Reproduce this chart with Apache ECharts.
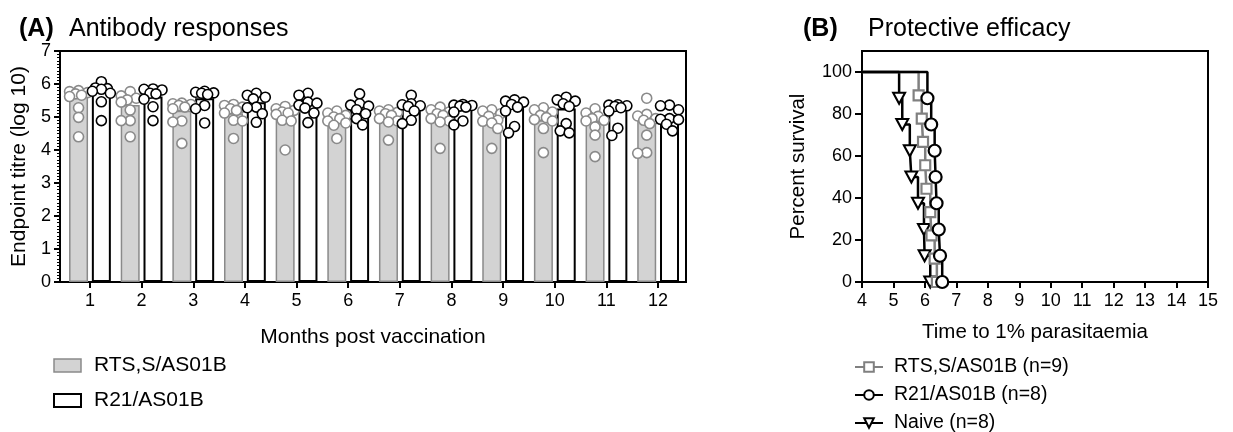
<!DOCTYPE html>
<html>
<head>
<meta charset="utf-8">
<script src="https://cdn.jsdelivr.net/npm/echarts@6/dist/echarts.min.js"></script>
<style>html,body{margin:0;padding:0;background:#fff;}#c{width:1233px;height:432px;}</style>
</head>
<body>
<div id="c"></div>
<script>
// ---------- Data ----------
const months = [1, 2, 3, 4, 5, 6, 7, 8, 9, 10, 11, 12];
const rtsBar = [5.62, 5.36, 5.19, 5.11, 5.06, 4.85, 4.99, 4.92, 4.80, 4.90, 4.85, 4.88];
const r21Bar = [5.82, 5.62, 5.57, 5.45, 5.54, 5.35, 5.32, 5.36, 5.36, 5.26, 5.28, 5.06];
const rtsPoints = [
  [5.80, 5.77, 5.74, 5.70, 5.66, 5.62, 5.28, 4.99, 4.40],
  [5.77, 5.64, 5.57, 5.52, 5.45, 5.21, 4.89, 4.89, 4.40],
  [5.42, 5.40, 5.38, 5.35, 5.30, 5.25, 4.88, 4.85, 4.20],
  [5.38, 5.35, 5.30, 5.25, 5.20, 5.12, 4.90, 4.88, 4.35],
  [5.32, 5.25, 5.20, 5.15, 5.12, 5.08, 4.90, 4.88, 4.00],
  [5.18, 5.12, 5.05, 5.00, 4.95, 4.88, 4.82, 4.75, 4.35],
  [5.22, 5.18, 5.14, 5.10, 5.05, 4.95, 4.88, 4.85, 4.30],
  [5.30, 5.22, 5.15, 5.10, 5.05, 4.95, 4.88, 4.85, 4.05],
  [5.22, 5.18, 5.10, 5.02, 4.90, 4.87, 4.82, 4.65, 4.05],
  [5.28, 5.22, 5.15, 5.05, 4.98, 4.92, 4.88, 4.65, 3.92],
  [5.25, 5.12, 5.02, 4.95, 4.90, 4.88, 4.70, 4.45, 3.80],
  [5.57, 5.08, 5.03, 4.95, 4.90, 4.80, 4.45, 3.92, 3.90]
];
const r21Points = [
  [6.07, 5.88, 5.86, 5.84, 5.78, 5.72, 5.46, 4.89],
  [5.85, 5.84, 5.82, 5.72, 5.70, 5.54, 5.31, 4.89],
  [5.78, 5.75, 5.73, 5.72, 5.68, 5.35, 5.25, 4.82],
  [5.72, 5.66, 5.60, 5.55, 5.30, 5.28, 5.10, 4.84],
  [5.72, 5.66, 5.45, 5.42, 5.36, 5.27, 5.12, 4.83],
  [5.70, 5.40, 5.36, 5.33, 5.22, 5.10, 4.95, 4.76],
  [5.66, 5.40, 5.37, 5.34, 5.32, 5.18, 4.90, 4.80],
  [5.38, 5.36, 5.35, 5.33, 5.30, 5.15, 4.88, 4.76],
  [5.52, 5.48, 5.45, 5.38, 5.30, 5.18, 4.71, 4.52],
  [5.60, 5.52, 5.48, 5.40, 5.32, 4.80, 4.58, 4.52],
  [5.37, 5.36, 5.34, 5.32, 5.28, 5.18, 4.66, 4.44],
  [5.36, 5.34, 5.22, 4.95, 4.93, 4.92, 4.78, 4.58]
];
const yTicksA = [0, 1, 2, 3, 4, 5, 6, 7];

// Survival (Kaplan-Meier) data
const startTime = 4;
const rtsTimes = [5.80, 5.90, 5.94, 6.01, 6.05, 6.17, 6.21, 6.31, 6.38];
const rtsSurv = [88.9, 77.8, 66.7, 55.6, 44.4, 33.3, 22.2, 11.1, 0];
const r21Times = [6.08, 6.20, 6.31, 6.34, 6.37, 6.44, 6.48, 6.55];
const r21Surv = [87.5, 75, 62.5, 50, 37.5, 25, 12.5, 0];
const naiveTimes = [5.18, 5.28, 5.52, 5.57, 5.78, 5.97, 5.99, 6.17];
const naiveSurv = [87.5, 75, 62.5, 50, 37.5, 25, 12.5, 0];
const xTicksB = [4, 5, 6, 7, 8, 9, 10, 11, 12, 13, 14, 15];
const yTicksB = [0, 20, 40, 60, 80, 100];
const legendNamesB = ['RTS,S/AS01B (n=9)', 'R21/AS01B (n=8)', 'Naive (n=8)'];

// ---------- Layout / style ----------
const FONT = 'Liberation Sans, Arial, sans-serif';
const gridA = { left: 60, top: 51, width: 626, height: 231 };
const gridB = { left: 862, top: 51, width: 346, height: 231 };
const xMinA = 0.42, xMaxA = 12.54, yMaxA = 7;
const barW = 19, barGapPct = 20;
const diam = 10;

const pxPerXA = gridA.width / (xMaxA - xMinA);
const pxPerYA = gridA.height / yMaxA;
const halfShift = (barW + barW * barGapPct / 100) / 2 / pxPerXA;

function swarm(vals, center) {
  const placed = [];
  const order = vals.map((v, i) => i).sort((a, b) => vals[b] - vals[a]);
  const res = new Array(vals.length);
  const step = 3, maxOff = 9;
  const cands = [0];
  for (let k = 1; k * step <= maxOff; k++) cands.push(-k * step, k * step);
  order.forEach(i => {
    const y = vals[i] * pxPerYA;
    let best = 0, bestScore = -1;
    for (const c of cands) {
      let minD = Infinity;
      placed.forEach(p => { const d = Math.hypot(p.x - c, p.y - y); if (d < minD) minD = d; });
      if (minD >= diam * 0.8) { best = c; bestScore = Infinity; break; }
      if (minD > bestScore) { bestScore = minD; best = c; }
    }
    placed.push({ x: best, y });
    res[i] = [center + best / pxPerXA, vals[i]];
  });
  return res;
}

const rtsScatter = [], r21Scatter = [];
months.forEach((m, i) => {
  rtsScatter.push(...swarm(rtsPoints[i], m - halfShift));
  r21Scatter.push(...swarm(r21Points[i], m + halfShift));
});

function km(times, surv) {
  const d = [{ value: [startTime, 100], symbol: 'none' }];
  times.forEach((t, i) => d.push([t, surv[i]]));
  return d;
}

const axisLine = { show: true, lineStyle: { color: '#000', width: 2 } };
const tickStyle = { color: '#000', width: 2 };
const labelStyle = { color: '#000', fontSize: 18, fontFamily: FONT };
const nameStyleA = { color: '#000', fontSize: 21, fontFamily: FONT };
const nameStyleB = { color: '#000', fontSize: 20.5, fontFamily: FONT };
const titleStyle = { fontSize: 25, fontWeight: 'normal', color: '#000', fontFamily: FONT };
const titleBold = { fontSize: 25, fontWeight: 'bold', color: '#000', fontFamily: FONT };

const legendB = legendNamesB.map((n, i) => ({
  orient: 'vertical', left: 849, top: 352 + i * 28, itemWidth: 28, itemHeight: 12,
  textStyle: { color: '#000', fontSize: 19.5, fontFamily: FONT, padding: [0, 0, 0, 6] },
  data: [n], selectedMode: false
}));

const chart = echarts.init(document.getElementById('c'), null, { renderer: 'canvas' });
chart.setOption({
  animation: false,
  backgroundColor: '#fff',
  textStyle: { fontFamily: FONT },
  title: [
    { text: '(A)', left: 14, top: 12, textStyle: titleBold },
    { text: 'Antibody responses', left: 64, top: 12, textStyle: titleStyle },
    { text: '(B)', left: 798, top: 12, textStyle: titleBold },
    { text: 'Protective efficacy', left: 863, top: 12, textStyle: titleStyle }
  ],
  grid: [
    Object.assign({ show: true, borderColor: '#000', borderWidth: 2, backgroundColor: 'transparent' }, gridA),
    Object.assign({ show: true, borderColor: '#000', borderWidth: 2, backgroundColor: 'transparent' }, gridB)
  ],
  legend: [
    {
      orient: 'vertical', left: 48, top: 350, itemWidth: 27, itemHeight: 13, itemGap: 14,
      textStyle: { color: '#000', fontSize: 21, fontFamily: FONT, padding: [0, 0, 0, 8] },
      data: [
        { name: 'RTS,S/AS01B', icon: 'rect', itemStyle: { color: '#d3d3d3', borderColor: '#8a8a8a', borderWidth: 1.5 } },
        { name: 'R21/AS01B', icon: 'rect', itemStyle: { color: '#fff', borderColor: '#000', borderWidth: 2 } }
      ],
      selectedMode: false
    }
  ].concat(legendB),
  xAxis: [
    {
      type: 'value', gridIndex: 0, min: xMinA, max: xMaxA,
      name: 'Months post vaccination', nameLocation: 'middle', nameGap: 45, nameTextStyle: nameStyleA,
      axisLine: axisLine,
      axisTick: { show: true, length: 6, lineStyle: tickStyle, customValues: months },
      axisLabel: Object.assign({ margin: 10, customValues: months }, labelStyle),
      splitLine: { show: false }
    },
    {
      type: 'value', gridIndex: 1, min: 4, max: 15, interval: 1,
      name: 'Time to 1% parasitaemia', nameLocation: 'middle', nameGap: 40, nameTextStyle: nameStyleB,
      axisLine: axisLine,
      axisTick: { show: true, length: 6, lineStyle: tickStyle, customValues: xTicksB },
      axisLabel: Object.assign({ margin: 10, customValues: xTicksB }, labelStyle),
      splitLine: { show: false }
    }
  ],
  yAxis: [
    {
      type: 'value', gridIndex: 0, min: 0, max: yMaxA, interval: 1,
      name: 'Endpoint titre (log 10)', nameLocation: 'middle', nameGap: 30, nameTextStyle: nameStyleA,
      axisLine: axisLine,
      axisTick: { show: true, length: 6, lineStyle: tickStyle, customValues: yTicksA },
      minorTick: { show: true, splitNumber: 10, length: 3, lineStyle: { color: '#000', width: 1 } },
      axisLabel: Object.assign({ margin: 9, customValues: yTicksA }, labelStyle),
      splitLine: { show: false }
    },
    {
      type: 'value', gridIndex: 1, min: 0, max: 110,
      name: 'Percent survival', nameLocation: 'middle', nameGap: 53, nameTextStyle: nameStyleB,
      axisLine: axisLine,
      axisTick: { show: true, length: 7, lineStyle: tickStyle, customValues: yTicksB },
      axisLabel: Object.assign({ margin: 10, customValues: yTicksB }, labelStyle),
      splitLine: { show: false }
    }
  ],
  series: [
    {
      name: 'RTS,S/AS01B', type: 'bar', xAxisIndex: 0, yAxisIndex: 0,
      barWidth: barW, barGap: barGapPct + '%',
      itemStyle: { color: '#d3d3d3', borderColor: '#8a8a8a', borderWidth: 1.5 },
      data: months.map((m, i) => [m, rtsBar[i]]), z: 2
    },
    {
      name: 'R21/AS01B', type: 'bar', xAxisIndex: 0, yAxisIndex: 0,
      barWidth: barW, barGap: barGapPct + '%',
      itemStyle: { color: '#fff', borderColor: '#000', borderWidth: 2 },
      data: months.map((m, i) => [m, r21Bar[i]]), z: 2
    },
    {
      name: 'rts-points', type: 'scatter', xAxisIndex: 0, yAxisIndex: 0,
      symbol: 'circle', symbolSize: diam,
      itemStyle: { color: '#fff', borderColor: '#8a8a8a', borderWidth: 1.6, opacity: 1 },
      data: rtsScatter, z: 5
    },
    {
      name: 'r21-points', type: 'scatter', xAxisIndex: 0, yAxisIndex: 0,
      symbol: 'circle', symbolSize: diam,
      itemStyle: { color: '#fff', borderColor: '#000', borderWidth: 1.6, opacity: 1 },
      data: r21Scatter, z: 5
    },
    {
      name: 'Naive (n=8)', type: 'line', xAxisIndex: 1, yAxisIndex: 1, step: 'end',
      symbol: 'triangle', symbolRotate: 180, symbolSize: [12, 11], showAllSymbol: true, clip: false,
      lineStyle: { color: '#000', width: 2.5 },
      itemStyle: { color: '#fff', borderColor: '#000', borderWidth: 2 },
      data: km(naiveTimes, naiveSurv), z: 3
    },
    {
      name: 'RTS,S/AS01B (n=9)', type: 'line', xAxisIndex: 1, yAxisIndex: 1, step: 'end',
      symbol: 'rect', symbolSize: 10, showAllSymbol: true, clip: false,
      lineStyle: { color: '#808080', width: 2.5 },
      itemStyle: { color: '#fff', borderColor: '#808080', borderWidth: 2.2 },
      data: km(rtsTimes, rtsSurv), z: 4
    },
    {
      name: 'R21/AS01B (n=8)', type: 'line', xAxisIndex: 1, yAxisIndex: 1, step: 'end',
      symbol: 'circle', symbolSize: 12, showAllSymbol: true, clip: false,
      lineStyle: { color: '#000', width: 2.5 },
      itemStyle: { color: '#fff', borderColor: '#000', borderWidth: 2.2 },
      data: km(r21Times, r21Surv), z: 5
    }
  ]
});
</script>
</body>
</html>
